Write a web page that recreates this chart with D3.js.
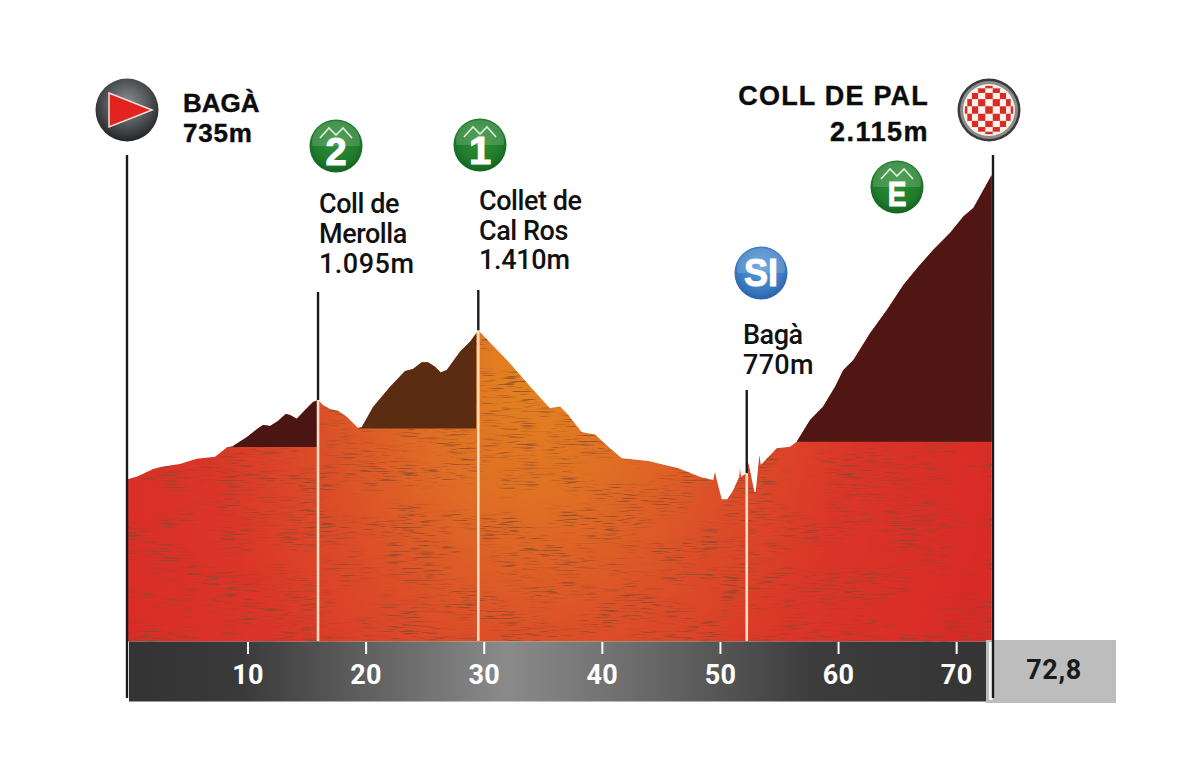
<!DOCTYPE html>
<html><head><meta charset="utf-8">
<script src="https://cdn.jsdelivr.net/npm/d3@7/dist/d3.min.js"></script>
<style>html,body{margin:0;padding:0;background:#fff;overflow:hidden}svg{display:block}</style>
</head><body><svg id="c" width="1185" height="768"></svg>
<script>
const profileKm = [-0.23,0.62,2.02,2.85,4.28,5.70,7.25,7.67,8.24,8.77,9.93,10.78,11.31,11.91,12.58,13.23,13.60,14.17,14.87,15.55,15.97,16.39,16.99,17.66,18.40,18.93,19.36,19.67,20.63,22.07,23.34,24.01,24.75,25.28,25.88,26.36,26.87,27.99,28.84,29.54,32.08,34.06,35.61,36.46,37.16,38.30,39.42,40.55,41.69,43.94,46.48,48.46,49.44,49.58,49.73,50.15,50.63,51.13,51.64,51.70,51.79,52.27,52.41,52.91,53.03,53.34,53.46,54.81,55.94,56.50,57.63,58.73,59.75,60.45,61.30,62.71,64.12,65.53,66.80,68.07,69.48,70.61,71.46,73.01];
const profileElev = [735,747,782,793,805,829,838,855,880,886,926,962,982,977,1000,1031,1027,1010,1050,1086,1095,1072,1054,1046,1019,991,968,971,1063,1155,1226,1235,1266,1266,1246,1220,1231,1314,1359,1410,1269,1148,1057,1065,1027,949,939,883,831,818,785,743,732,770,732,645,645,687,747,785,747,763,811,679,679,846,800,876,883,906,1004,1064,1155,1231,1276,1397,1502,1616,1699,1776,1852,1927,1965,2115];
const kmTicks = [10,20,30,40,50,60,70];
const totalLabel = "72,8";
const climbs = [
  {name:["Coll de","Merolla","1.095m"], km:15.97, elev:1095, badge:"2", fromKm:8.77, toKm:15.97, baseElev:882, dark:"#4a1512"},
  {name:["Collet de","Cal Ros","1.410m"], km:29.54, elev:1410, badge:"1", fromKm:19.36, toKm:29.35, baseElev:966, dark:"#5a2c12"},
  {name:["Bagà","770m"], km:52.27, elev:763, badge:"SI"},
];
const finalClimb = {fromKm:56.50, toKm:73.05, baseElev:906, dark:"#501614"};

const svg = d3.select("#c");
const defs = svg.append("defs");
const x = d3.scaleLinear().domain([-0.23,73.01]).range([126.7,991.7]);
const y = d3.scaleLinear().domain([0,2115]).range([641.5,175]);
const baseElev = 0;
const pts = profileKm.map((k,i)=>[k,profileElev[i]]);
const area = d3.area().x(d=>x(d[0])).y0(y(baseElev)).y1(d=>y(d[1])).curve(d3.curveLinear);

// gradients
const fill = defs.append("radialGradient").attr("id","relief").attr("gradientUnits","userSpaceOnUse")
  .attr("cx",530).attr("cy",370).attr("r",470).attr("gradientTransform","translate(530 370) scale(1 1.25) translate(-530 -370)");
[[0,"#e3831f"],[0.22,"#e07024"],[0.45,"#dc5028"],[0.7,"#db3528"],[1,"#d92b26"]].forEach(s=>fill.append("stop").attr("offset",s[0]).attr("stop-color",s[1]));
const bar = defs.append("linearGradient").attr("id","bar");
[[0,"#333333"],[0.13,"#3a3a3a"],[0.44,"#8a8a8a"],[0.58,"#6e6e6e"],[0.8,"#3c3c3c"],[1,"#353535"]].forEach(s=>bar.append("stop").attr("offset",s[0]).attr("stop-color",s[1]));
const mkRad=(id,stops,cx=0.5,cy=0.4,r=0.6)=>{const g=defs.append("radialGradient").attr("id",id).attr("cx",cx).attr("cy",cy).attr("r",r);stops.forEach(s=>g.append("stop").attr("offset",s[0]).attr("stop-color",s[1]));};
mkRad("gStart",[[0,"#8d9093"],[0.55,"#55585a"],[1,"#222426"]]);
mkRad("gGreen",[[0,"#2f9138"],[0.7,"#207c2c"],[1,"#12631f"]]);
mkRad("gBlue",[[0,"#5a9bd8"],[0.7,"#3c7cc2"],[1,"#2a62a8"]]);

// patchy streak texture: fine horizontal dashes masked by larger blotches
const tex = defs.append("filter").attr("id","streaks").attr("x",0).attr("y",0).attr("width","100%").attr("height","100%");
tex.append("feTurbulence").attr("type","fractalNoise").attr("baseFrequency","0.05 0.7").attr("numOctaves",2).attr("seed",7).attr("result","fine");
tex.append("feColorMatrix").attr("in","fine").attr("values","0 0 0 0 0.24  0 0 0 0 0.07  0 0 0 0 0.03  5.5 0 0 0 -2.95").attr("result","dash");
tex.append("feTurbulence").attr("type","fractalNoise").attr("baseFrequency","0.018 0.035").attr("numOctaves",3).attr("seed",23).attr("result","big");
tex.append("feColorMatrix").attr("in","big").attr("values","0 0 0 0 0  0 0 0 0 0  0 0 0 0 0  4 0 0 0 -1.5").attr("result","mask");
tex.append("feComposite").attr("in","dash").attr("in2","mask").attr("operator","in");

defs.append("clipPath").attr("id","clipProfile").append("path").attr("d",area(pts));

// profile
svg.append("path").attr("d",area(pts)).attr("fill","url(#relief)");
svg.append("g").attr("clip-path","url(#clipProfile)")
  .append("rect").attr("x",120).attr("y",170).attr("width",880).attr("height",475).attr("filter","url(#streaks)").attr("opacity",0.8);

// dark climb blocks
[...climbs.filter(c=>c.dark),finalClimb].forEach((c,i)=>{
  const id="clipD"+i;
  defs.append("clipPath").attr("id",id).append("rect")
    .attr("x",x(c.fromKm)).attr("y",100).attr("width",x(c.toKm)-x(c.fromKm)).attr("height",y(c.baseElev)-100);
  svg.append("g").attr("clip-path",`url(#${id})`).append("path").attr("d",area(pts)).attr("fill",c.dark);
});

// axis bar
svg.append("rect").attr("x",129).attr("y",641.5).attr("width",857).attr("height",60).attr("fill","url(#bar)");
const axis = d3.axisBottom(x).tickValues(kmTicks).tickSize(12).tickPadding(11).tickFormat(d3.format("d"));
const ax = svg.append("g").attr("transform","translate(0,642)").call(axis);
ax.select(".domain").remove();
ax.selectAll("line").attr("stroke","#fff").attr("stroke-width",2);
ax.selectAll("text").attr("fill","#fff").attr("font-family","Roboto").attr("font-weight",700).attr("font-size",27).attr("letter-spacing","0.3");

// total box
svg.append("rect").attr("x",986).attr("y",640).attr("width",130).attr("height",63).attr("fill","#bdbdbd");
svg.append("rect").attr("x",989).attr("y",642).attr("width",3.5).attr("height",58).attr("fill","#f4f4f4");
svg.append("text").attr("x",1054).attr("y",679).attr("text-anchor","middle").attr("font-family","Roboto").attr("font-weight",700).attr("font-size",27).attr("letter-spacing","0.6").attr("fill","#1a1a1a").text(totalLabel);

// vertical lines
const line=(px,a,b,col,w=2.4)=>svg.append("line").attr("x1",px).attr("x2",px).attr("y1",a).attr("y2",b).attr("stroke",col).attr("stroke-width",w);
line(127,155,698,"#1a1a1a");
line(993,155,698,"#1a1a1a");
const cream="#f6dcc4";
const tops=[292,290,390];
climbs.forEach((c,i)=>{
  line(x(c.km),tops[i],y(c.elev),"#1a1a1a");
  line(x(c.km),y(c.elev),641,cream,2.6);
});

// climb labels
const lblPos=[[319,213,30],[479,210,29.5],[743,344,30]];
const numSpacing={"1.095m":"0.5","1.410m":"-0.3","770m":"0.3"};
climbs.forEach((c,i)=>{
  const t=svg.append("text").attr("font-family","Roboto").attr("font-weight",500).attr("font-size",27).attr("fill","#111");
  c.name.forEach((s,j)=>t.append("tspan").attr("x",lblPos[i][0]).attr("y",lblPos[i][1]+j*lblPos[i][2])
    .attr("letter-spacing",numSpacing[s]||"-0.45").text(s));
});

// start/finish labels
const bold=(s,px,py,anchor,ls,fs=26)=>svg.append("text").attr("x",px).attr("y",py).attr("text-anchor",anchor).attr("font-family","Liberation Sans").attr("font-weight",700).attr("font-size",fs).attr("letter-spacing",ls).attr("fill","#0c0c0c").attr("stroke","#0c0c0c").attr("stroke-width",0.4).text(s);
bold("BAGÀ",183,112,"start",0);
bold("735m",183,142,"start",0.8);
bold("COLL DE PAL",929,105,"end",1.2,27);
bold("2.115m",929,141,"end",1.5,27);

// start icon
svg.append("circle").attr("cx",127).attr("cy",110).attr("r",31.5).attr("fill","url(#gStart)");
svg.append("path").attr("d",d3.line()([[109,93],[152,110],[109,127]])+"Z").attr("fill","#e3231f").attr("stroke","#f0e2d8").attr("stroke-width",1.5);

// finish icon: checks bulge like a ball
svg.append("circle").attr("cx",989).attr("cy",110).attr("r",31.5).attr("fill","#3a3a3a");
svg.append("circle").attr("cx",989).attr("cy",110).attr("r",29).attr("fill","#8c8c8c");
svg.append("circle").attr("cx",989).attr("cy",110).attr("r",26).attr("fill","#fbf3ea");
defs.append("clipPath").attr("id","clipChk").append("circle").attr("cx",989).attr("cy",110).attr("r",24.5);
const ball=i=>25*Math.sin(Math.max(-1.57,Math.min(1.57,i*0.3)));
const chkCells=d3.cross(d3.range(-6,6),d3.range(-6,6)).filter(d=>(d[0]+d[1]+12)%2===0);
svg.append("g").attr("clip-path","url(#clipChk)").selectAll("rect").data(chkCells).join("rect")
  .attr("x",d=>989+ball(d[0]-0.5)).attr("y",d=>110+ball(d[1]-0.5))
  .attr("width",d=>ball(d[0]+0.5)-ball(d[0]-0.5)).attr("height",d=>ball(d[1]+0.5)-ball(d[1]-0.5)).attr("fill","#d92b26");

// badges
function badge(cx,cy,label,grad,size,mount,sx=1){
  const g=svg.append("g").attr("transform",`translate(${cx},${cy})`);
  g.append("circle").attr("r",26.5).attr("fill",`url(#${grad})`);
  const cid="b"+cx;
  defs.append("clipPath").attr("id",cid).append("rect").attr("x",-30).attr("y",-30).attr("width",60).attr("height",30);
  g.append("g").attr("clip-path",`url(#${cid})`).append("ellipse").attr("cx",0).attr("cy",-4).attr("rx",24).attr("ry",21).attr("fill","#fff").attr("opacity",0.16);
  if(mount) g.append("path").attr("d",d3.line()([[-16,-8],[-7,-18],[0,-11],[7,-18],[16,-8]])).attr("fill","none").attr("stroke","#dff0dc").attr("stroke-width",1.6);
  g.append("text").attr("transform",`translate(0,${mount?19:13}) scale(${sx},1)`).attr("text-anchor","middle").attr("font-family","Liberation Sans").attr("font-weight",700).attr("font-size",size).attr("fill","#fff")
    .attr("stroke","#fff").attr("stroke-width",1).text(label);
}
badge(336,146,"2","gGreen",38,true);
badge(480,145,"1","gGreen",38,true,1.05);
badge(897,187,"E","gGreen",36,true,0.78);
badge(761,273,"SI","gBlue",38,false,0.95);
</script></body></html>
